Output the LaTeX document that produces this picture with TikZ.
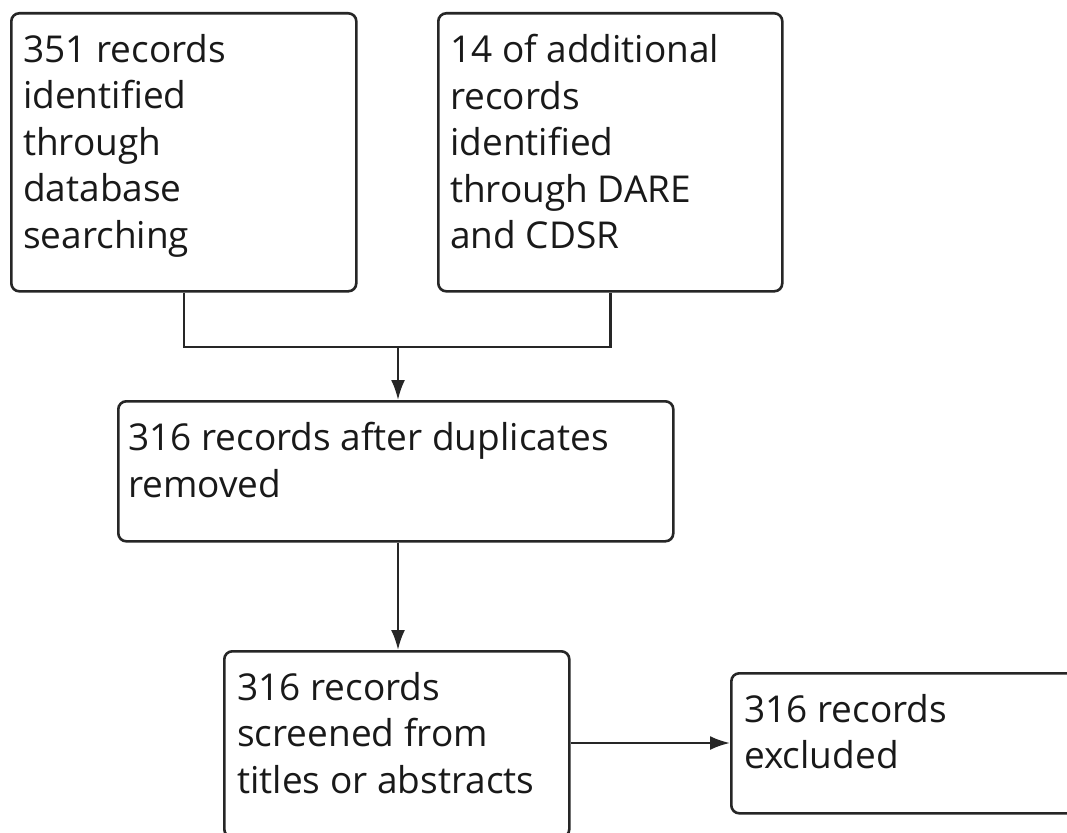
\documentclass[tikz,border=0pt]{standalone}
\usepackage{fontspec}
\setmainfont{Open Sans}
\usetikzlibrary{arrows.meta}
\begin{document}
\begin{tikzpicture}[x=1pt,y=-1pt,
  boxstyle/.style={draw=black!85, line width=2.6pt, rounded corners=8pt, inner sep=0pt, anchor=north west},
  txt/.style={anchor=north west, inner sep=0pt, align=left, font=\fontsize{37}{46.5}\selectfont, text=black!90},
  conn/.style={draw=black!85, line width=2.4pt},
  arr/.style={conn, -{Latex[length=20pt,width=14pt]}}]
\clip (0,0) rectangle (1067,832);
\fill[white] (0,0) rectangle (1067,832);
% boxes
\node[boxstyle, minimum width=345pt, minimum height=278pt] (b1) at (10,12) {};
\node[boxstyle, minimum width=344pt, minimum height=278pt] (b2) at (437,12) {};
\node[boxstyle, minimum width=555pt, minimum height=140pt] (b3) at (117,400) {};
\node[boxstyle, minimum width=345pt, minimum height=186pt] (b4) at (223,650) {};
\node[boxstyle, minimum width=360pt, minimum height=140pt] (b5) at (730,672) {};
% texts
\node[txt] (t1) at (23,34) {351 records\\identified\\through\\database\\searching};
\node[txt] (t2) at (450,34) {14 of additional\\records\\identified\\through DARE\\and CDSR};
\node[txt] (t3) at (128,422) {316 records after duplicates\\removed};
\node[txt] (t4) at (237,672) {316 records\\screened from\\titles or abstracts};
\node[txt] (t5) at (744,694) {316 records\\excluded};
% connectors
\coordinate (j) at (398,347);
\draw[conn] (b1.south) |- (j) -| (b2.south);
\draw[arr] (j) -- (j |- b3.north);
\draw[arr] (j |- b3.south) -- (j |- b4.north);
\draw[arr] (b4.east |- 0,743) -- (b5.west |- 0,743);
\end{tikzpicture}
\end{document}
